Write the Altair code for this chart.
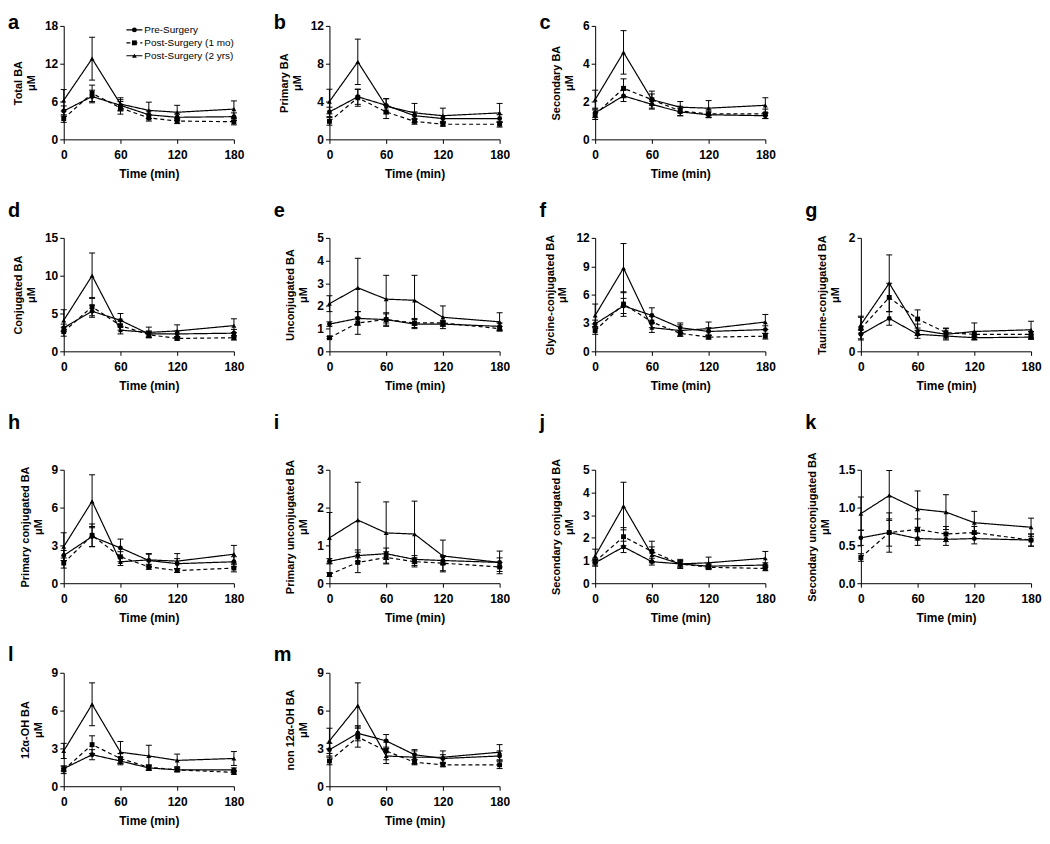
import altair as alt
import pandas as pd

FONT = "Liberation Sans"
TIMES = [0, 30, 60, 90, 120, 180]
GROUPS = ["Pre-Surgery", "Post-Surgery (1 mo)", "Post-Surgery (2 yrs)"]
DASHES = [[1, 0], [4, 3], [1, 0]]
SHAPES = ["circle", "square", "triangle-up"]

# means / SEM per panel: rows = Pre, 1 mo, 2 yrs ; columns = TIMES
a_mean = [[4.5, 6.8, 5.4, 3.9, 3.5, 3.6], [3.3, 7.3, 5.0, 3.4, 2.9, 2.8], [6.2, 12.8, 5.6, 4.6, 4.3, 4.8]]
a_sem = [[0.8, 1.0, 0.9, 0.6, 0.5, 0.6], [0.6, 1.3, 1.0, 0.5, 0.4, 0.5], [1.7, 3.4, 1.0, 1.3, 1.1, 1.3]]
b_mean = [[2.9, 4.5, 3.6, 2.5, 2.2, 2.2], [1.9, 4.4, 2.9, 1.9, 1.6, 1.6], [4.0, 8.2, 3.5, 2.8, 2.5, 2.8]]
b_sem = [[0.5, 0.8, 0.7, 0.4, 0.3, 0.4], [0.4, 0.9, 0.7, 0.3, 0.2, 0.3], [1.3, 2.4, 0.8, 1.0, 0.8, 1.0]]
c_mean = [[1.4, 2.3, 1.85, 1.45, 1.3, 1.25], [1.3, 2.7, 2.1, 1.5, 1.35, 1.35], [2.1, 4.6, 2.1, 1.7, 1.65, 1.8]]
c_sem = [[0.25, 0.3, 0.25, 0.2, 0.15, 0.15], [0.25, 0.5, 0.3, 0.25, 0.2, 0.25], [0.5, 1.15, 0.45, 0.3, 0.4, 0.4]]
d_mean = [[3.1, 5.3, 4.1, 2.3, 2.3, 2.4], [2.6, 5.9, 3.4, 2.2, 1.7, 1.8], [4.1, 10.0, 2.8, 2.5, 2.7, 3.4]]
d_sem = [[0.5, 0.8, 0.9, 0.4, 0.4, 0.5], [0.6, 1.2, 0.6, 0.4, 0.2, 0.3], [1.4, 3.0, 0.5, 0.7, 0.8, 0.9]]
e_mean = [[1.2, 1.45, 1.4, 1.2, 1.2, 1.1], [0.6, 1.25, 1.4, 1.25, 1.25, 1.0], [2.1, 2.8, 2.3, 2.25, 1.5, 1.3]]
e_sem = [[0.1, 0.3, 0.25, 0.2, 0.1, 0.15], [0.05, 0.5, 0.3, 0.2, 0.1, 0.1], [0.35, 1.3, 1.05, 1.1, 0.5, 0.4]]
f_mean = [[2.9, 4.8, 3.8, 2.5, 2.1, 2.3], [2.2, 5.0, 3.1, 1.9, 1.5, 1.6], [3.8, 8.8, 2.5, 2.2, 2.4, 3.1]]
f_sem = [[0.4, 0.8, 0.8, 0.5, 0.4, 0.4], [0.4, 1.3, 0.6, 0.3, 0.2, 0.3], [1.2, 2.6, 0.5, 0.6, 0.7, 0.8]]
g_mean = [[0.3, 0.58, 0.3, 0.27, 0.24, 0.25], [0.4, 0.95, 0.57, 0.33, 0.3, 0.3], [0.47, 1.2, 0.38, 0.3, 0.35, 0.38]]
g_sem = [[0.08, 0.12, 0.07, 0.05, 0.03, 0.04], [0.2, 0.25, 0.16, 0.08, 0.05, 0.05], [0.15, 0.5, 0.1, 0.1, 0.15, 0.15]]
h_mean = [[2.2, 3.7, 2.8, 1.8, 1.55, 1.7], [1.6, 3.8, 2.1, 1.3, 1.0, 1.2], [2.9, 6.5, 1.7, 1.85, 1.75, 2.3]]
h_sem = [[0.4, 0.8, 0.7, 0.5, 0.4, 0.4], [0.4, 0.9, 0.4, 0.2, 0.15, 0.3], [1.1, 2.1, 0.3, 0.5, 0.6, 0.7]]
i_mean = [[0.58, 0.73, 0.78, 0.63, 0.6, 0.55], [0.23, 0.55, 0.68, 0.57, 0.53, 0.43], [1.2, 1.67, 1.33, 1.3, 0.72, 0.55]]
i_sem = [[0.07, 0.15, 0.15, 0.1, 0.1, 0.12], [0.05, 0.27, 0.15, 0.1, 0.2, 0.12], [0.67, 1.0, 0.82, 0.87, 0.42, 0.3]]
j_mean = [[0.9, 1.6, 0.95, 0.85, 0.75, 0.8], [0.95, 2.05, 1.4, 0.85, 0.7, 0.65], [1.2, 3.4, 1.25, 0.85, 0.9, 1.1]]
j_sem = [[0.15, 0.25, 0.15, 0.1, 0.1, 0.1], [0.15, 0.4, 0.45, 0.15, 0.1, 0.1], [0.3, 1.05, 0.35, 0.2, 0.25, 0.3]]
k_mean = [[0.6, 0.67, 0.59, 0.58, 0.59, 0.57], [0.34, 0.67, 0.71, 0.65, 0.67, 0.57], [0.92, 1.16, 0.98, 0.94, 0.8, 0.74]]
k_sem = [[0.1, 0.26, 0.09, 0.08, 0.07, 0.08], [0.05, 0.18, 0.14, 0.1, 0.08, 0.08], [0.22, 0.33, 0.24, 0.23, 0.15, 0.12]]
l_mean = [[1.4, 2.5, 2.0, 1.45, 1.3, 1.3], [1.3, 3.3, 2.2, 1.5, 1.3, 1.1], [2.8, 6.5, 2.7, 2.4, 2.05, 2.2]]
l_sem = [[0.2, 0.4, 0.3, 0.2, 0.15, 0.15], [0.3, 0.7, 0.4, 0.2, 0.15, 0.15], [0.6, 1.7, 0.85, 0.85, 0.5, 0.55]]
m_mean = [[2.9, 4.2, 3.6, 2.5, 2.2, 2.4], [2.0, 3.9, 2.8, 1.9, 1.7, 1.7], [3.6, 6.4, 2.4, 2.3, 2.3, 2.7]]
m_sem = [[0.5, 0.6, 0.5, 0.4, 0.3, 0.4], [0.3, 0.8, 0.7, 0.2, 0.15, 0.3], [1.0, 1.8, 0.6, 0.5, 0.5, 0.6]]

# letter, y title, y max, tick step, tick format, means, sems, row
PANELS = [
    ("a", "Total BA", 18, 6, "d", a_mean, a_sem, 0),
    ("b", "Primary BA", 12, 4, "d", b_mean, b_sem, 0),
    ("c", "Secondary BA", 6, 2, "d", c_mean, c_sem, 0),
    None,
    ("d", "Conjugated BA", 15, 5, "d", d_mean, d_sem, 1),
    ("e", "Unconjugated BA", 5, 1, "d", e_mean, e_sem, 1),
    ("f", "Glycine-conjugated BA", 12, 3, "d", f_mean, f_sem, 1),
    ("g", "Taurine-conjugated BA", 2, 1, "d", g_mean, g_sem, 1),
    ("h", "Primary conjugated BA", 9, 3, "d", h_mean, h_sem, 2),
    ("i", "Primary unconjugated BA", 3, 1, "d", i_mean, i_sem, 2),
    ("j", "Secondary conjugated BA", 5, 1, "d", j_mean, j_sem, 2),
    ("k", "Secondary unconjugated BA", 1.5, 0.5, ".1f", k_mean, k_sem, 2),
    ("l", "12\u03b1-OH BA", 9, 3, "d", l_mean, l_sem, 3),
    ("m", "non 12\u03b1-OH BA", 9, 3, "d", m_mean, m_sem, 3),
]

W, H = 171, 114
LETTER_Y = [3, -21, -41, -12]
ONE = alt.Data(values=[{"k": 0}])


def make_panel(letter, name, ymax, step, fmt, means, sems, row, legend=False):
    rows = []
    for g, mm, ss in zip(GROUPS, means, sems):
        for t, m, s in zip(TIMES, mm, ss):
            rows.append({"group": g, "time": t, "mean": m, "lo": m - s, "hi": m + s})
    df = pd.DataFrame(rows)
    nt = int(round(ymax / step))
    ticks = [round(step * k, 3) for k in range(nt + 1)]
    xaxis = alt.Axis(values=[0, 60, 120, 180], title="Time (min)")
    yaxis = alt.Axis(values=ticks, format=fmt, title=[name, "\u03bcM"])
    xs = alt.Scale(domain=[0, 180], nice=False, padding=0)
    ys = alt.Scale(domain=[0, ymax], nice=False, padding=0)

    def X():
        return alt.X("time:Q", scale=xs, axis=xaxis)

    def Y(f):
        return alt.Y(f + ":Q", scale=ys, axis=yaxis)

    base = alt.Chart(df)
    bars = base.mark_rule(color="black", strokeWidth=1).encode(x=X(), y=Y("lo"), y2="hi:Q")
    cap_lo = base.mark_rule(color="black", strokeWidth=1, xOffset=-3, x2Offset=3).encode(
        x=X(), x2="time:Q", y=Y("lo"))
    cap_hi = base.mark_rule(color="black", strokeWidth=1, xOffset=-3, x2Offset=3).encode(
        x=X(), x2="time:Q", y=Y("hi"))
    lines = base.mark_line(color="black", strokeWidth=1.2).encode(
        x=X(), y=Y("mean"),
        strokeDash=alt.StrokeDash("group:N", scale=alt.Scale(domain=GROUPS, range=DASHES), legend=None),
    )
    pts = base.mark_point(filled=True, color="black", size=24, opacity=1).encode(
        x=X(), y=Y("mean"),
        shape=alt.Shape("group:N", scale=alt.Scale(domain=GROUPS, range=SHAPES), legend=None),
    )
    lab = alt.Chart(ONE).mark_text(align="left", baseline="alphabetic", font=FONT, fontSize=20,
                                   fontWeight="bold", color="black").encode(
        x=alt.value(-56), y=alt.value(LETTER_Y[row]), text=alt.value(letter))
    layers = [bars, cap_lo, cap_hi, lines, pts, lab]
    if legend:
        for i, (g, dash, shp) in enumerate(zip(GROUPS, DASHES, SHAPES)):
            yv = 4 + 13 * i
            layers.append(alt.Chart(ONE).mark_rule(color="black", strokeWidth=1.2, strokeDash=dash).encode(
                x=alt.value(63), x2=alt.value(79), y=alt.value(yv)))
            layers.append(alt.Chart(ONE).mark_point(filled=True, shape=shp, size=24, color="black", opacity=1).encode(
                x=alt.value(71), y=alt.value(yv)))
            layers.append(alt.Chart(ONE).mark_text(align="left", baseline="middle", font=FONT, fontSize=10,
                                                   color="black").encode(
                x=alt.value(81), y=alt.value(yv), text=alt.value(g)))
    return alt.layer(*layers).properties(width=W, height=H)


def blank():
    return alt.Chart(ONE).mark_point(opacity=0).encode(
        x=alt.value(0), y=alt.value(0)).properties(width=W, height=H)


charts = []
for i, p in enumerate(PANELS):
    if p is None:
        charts.append(blank())
    else:
        charts.append(make_panel(*p, legend=(i == 0)))

chart = alt.concat(*charts, columns=4, align="each", spacing={"row": 22, "column": 29}).properties(
    padding={"top": 3, "bottom": 3, "left": 0, "right": 0}
).configure_axis(
    labelFont=FONT, labelFontSize=12, labelFontWeight="bold", labelColor="black",
    titleFont=FONT, titleFontSize=12, titleFontWeight="bold", titleColor="black",
    domainColor="black", tickColor="black", tickSize=4, grid=False, labelPadding=2,
    titleLineHeight=13, labelFlush=False,
).configure_axisX(titlePadding=8, labelPadding=6).configure_axisY(
    titlePadding=8, titleFontSize=11
).configure_view(stroke=None)

chart.save("out.html", embed_options={"renderer": "svg", "actions": False})
